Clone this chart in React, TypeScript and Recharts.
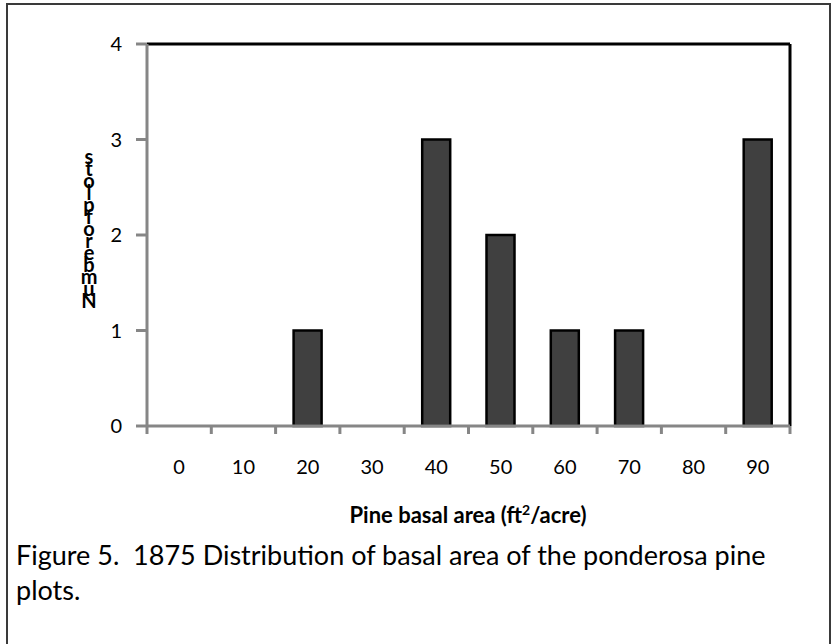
import { Bar, BarChart, ReferenceLine, XAxis, YAxis } from "recharts";

const categories = ["0", "10", "20", "30", "40", "50", "60", "70", "80", "90"];
const plotCounts = [0, 0, 1, 0, 3, 2, 1, 1, 0, 3];
const yTicks = [0, 1, 2, 3, 4];
const yTitle = "Number of plots";
const xTitle = "Pine basal area (ft";
const captionLines = [
  "Figure 5.  1875 Distribution of basal area of the ponderosa pine",
  "plots.",
];

const data = categories.map((range, i) => ({ range, plots: plotCounts[i] }));

const FONT = "Lato, 'Open Sans', sans-serif";
const AXIS_GRAY = "#868686";
const PLOT_LEFT = 147;
const PLOT_RIGHT = 790;
const BAND = (PLOT_RIGHT - PLOT_LEFT) / categories.length;

const XTick = (props: any) => {
  const { x, y, payload, index } = props;
  const last = index === categories.length - 1;
  return (
    <g>
      <line
        x1={x - BAND / 2}
        x2={x - BAND / 2}
        y1={y}
        y2={y + 8}
        stroke={AXIS_GRAY}
        strokeWidth={3}
      />
      {last && (
        <line
          x1={x + BAND / 2}
          x2={x + BAND / 2}
          y1={y}
          y2={y + 8}
          stroke={AXIS_GRAY}
          strokeWidth={3}
        />
      )}
      <text
        x={x}
        y={y + 41}
        dy="0.36em"
        textAnchor="middle"
        fill="#000"
        fontSize={20}
        fontFamily={FONT}
      >
        {payload.value}
      </text>
    </g>
  );
};

export default function App() {
  // the axis title is drawn as a reversed stack of letters, as in the source figure
  const stacked = yTitle.split("").reverse();
  return (
    <div
      style={{
        position: "fixed",
        top: 0,
        left: 0,
        width: 833,
        height: 644,
        background: "#fff",
        overflow: "hidden",
        fontFamily: FONT,
      }}
    >
      <div
        style={{
          position: "absolute",
          top: 3,
          left: 6,
          width: 821,
          height: 700,
          border: "2px solid #3a3a3a",
        }}
      />
      <div style={{ position: "absolute", top: 0, left: 0 }}>
        <BarChart
          width={833}
          height={644}
          data={data}
          margin={{ top: 44, right: 833 - PLOT_RIGHT, left: PLOT_LEFT - 60, bottom: 188 }}
        >
          <XAxis
            dataKey="range"
            height={30}
            axisLine={{ stroke: AXIS_GRAY, strokeWidth: 3 }}
            tickLine={false}
            tickSize={0}
            tickMargin={0}
            interval={0}
            tick={<XTick />}
          />
          <YAxis
            width={60}
            domain={[0, 4]}
            ticks={yTicks}
            interval={0}
            axisLine={{ stroke: AXIS_GRAY, strokeWidth: 3 }}
            tickLine={{ stroke: AXIS_GRAY, strokeWidth: 3 }}
            tickSize={11}
            tickMargin={14}
            tick={{ fill: "#000", fontSize: 20, fontFamily: FONT }}
          />
          <ReferenceLine y={4} stroke="#000" strokeWidth={3} />
          <ReferenceLine x="90" position="end" stroke="#000" strokeWidth={3} />
          <Bar
            dataKey="plots"
            barSize={28}
            fill="#404040"
            stroke="#000"
            strokeWidth={2.5}
            isAnimationActive={false}
          />
        </BarChart>
      </div>
      <div
        style={{
          position: "absolute",
          left: 76,
          top: 150,
          width: 26,
          textAlign: "center",
          fontWeight: 700,
          fontSize: 20,
          color: "#000",
        }}
      >
        {stacked.map((ch, i) => (
          <div
            key={i}
            style={{ height: ch === " " ? 0 : 12, lineHeight: "12px", overflow: "visible" }}
          >
            {ch === " " ? "" : ch}
          </div>
        ))}
      </div>
      <div
        style={{
          position: "absolute",
          left: 0,
          width: 936,
          top: 500,
          textAlign: "center",
          fontWeight: 700,
          fontSize: 22,
          lineHeight: "30px",
          color: "#000",
        }}
      >
        {xTitle}
        <sup style={{ fontSize: 14, lineHeight: 0 }}>2</sup>/acre)
      </div>
      <div
        style={{
          position: "absolute",
          left: 16,
          top: 537,
          fontSize: 27,
          lineHeight: "35px",
          color: "#000",
        }}
      >
        {captionLines.map((line, i) => (
          <div key={i} style={{ whiteSpace: "pre" }}>
            {line}
          </div>
        ))}
      </div>
    </div>
  );
}
